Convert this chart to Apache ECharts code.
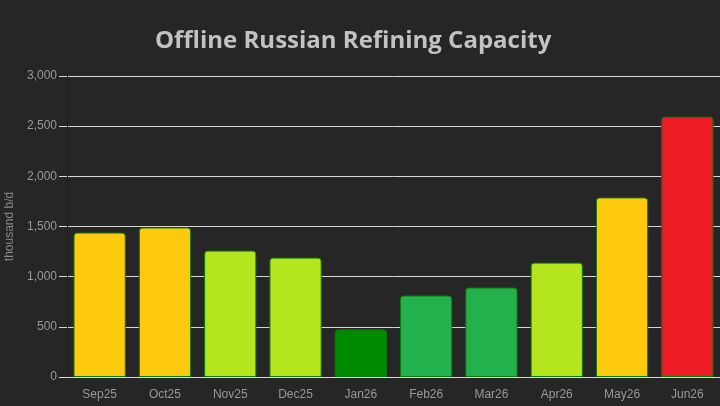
<!DOCTYPE html>
<html>
<head>
<meta charset="utf-8">
<script src="https://cdn.jsdelivr.net/npm/echarts@6/dist/echarts.min.js"></script>
<style>
  html, body { margin: 0; padding: 0; background: #262626; }
  #chart { width: 720px; height: 406px; }
</style>
</head>
<body>
<div id="chart"></div>
<script>
const months = ['Sep25', 'Oct25', 'Nov25', 'Dec25', 'Jan26', 'Feb26', 'Mar26', 'Apr26', 'May26', 'Jun26'];
const offline = [1440, 1490, 1260, 1190, 475, 812, 892, 1140, 1790, 2595];
const barColors = ['#FFCA0D', '#FFCA0D', '#B5E61D', '#B5E61D', '#008A00', '#22B14C', '#22B14C', '#B5E61D', '#FFCA0D', '#ED1C24'];
const yTicks = [0, 500, 1000, 1500, 2000, 2500, 3000];

const myChart = echarts.init(document.getElementById('chart'));
myChart.setOption({
    backgroundColor: '#262626',
    animation: false,
    title: {
        text: 'Offline Russian Refining Capacity',
        left: 150,
        top: 24,
        textStyle: {
            color: '#c2c2c2',
            fontFamily: 'Open Sans',
            fontWeight: 'bold',
            fontSize: 24
        }
    },
    grid: {
        left: 67,
        right: 0,
        top: 76,
        bottom: 29,
        outerBoundsMode: 'none'
    },
    xAxis: {
        type: 'category',
        data: months,
        axisLine: { show: true, lineStyle: { color: '#d8d8d8', width: 1 } },
        axisTick: { show: false },
        axisLabel: { color: '#999999', fontSize: 12, fontFamily: 'Arial', margin: 12 }
    },
    yAxis: {
        type: 'value',
        min: yTicks[0],
        max: yTicks[yTicks.length - 1],
        interval: 500,
        name: 'thousand b/d',
        nameLocation: 'middle',
        nameGap: 48,
        nameTextStyle: { color: '#8a8a8a', fontSize: 12, fontFamily: 'Arial' },
        axisLine: { show: true, lineStyle: { color: '#1e1e1e' } },
        axisTick: { show: true, length: 8, lineStyle: { color: '#d8d8d8' } },
        axisLabel: {
            color: '#999999',
            fontSize: 12,
            fontFamily: 'Arial',
            margin: 10,
            formatter: v => v.toLocaleString('en-US')
        },
        splitLine: { lineStyle: { color: '#d8d8d8', width: 1 } }
    },
    series: [{
        type: 'bar',
        barWidth: '80%',
        data: offline.map((v, i) => ({
            value: v,
            itemStyle: { color: barColors[i] }
        })),
        itemStyle: {
            borderColor: '#0b7a0b',
            borderWidth: 1,
            borderRadius: [3, 3, 0, 0]
        }
    }]
});
</script>
</body>
</html>
